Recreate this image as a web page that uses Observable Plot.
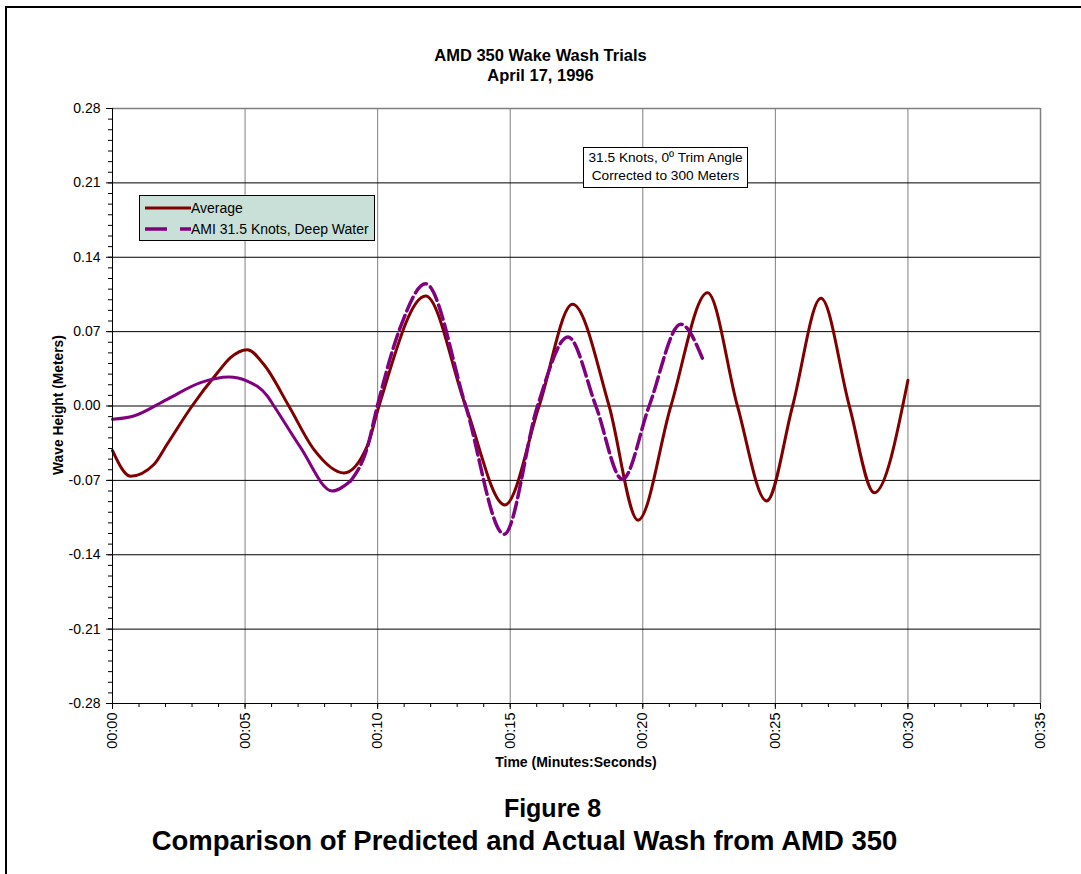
<!DOCTYPE html>
<html>
<head>
<meta charset="utf-8">
<script src="https://cdn.jsdelivr.net/npm/d3@7"></script>
<script src="https://cdn.jsdelivr.net/npm/@observablehq/plot@0.6"></script>
<style>
  html, body { margin: 0; padding: 0; background: #fff; overflow: hidden; }
  body { width: 1081px; height: 874px; position: relative; font-family: Arial, "Liberation Sans", sans-serif; }
  #frame { position: absolute; left: 5px; top: 6px; width: 1200px; height: 1000px; border-left: 2px solid #000; border-top: 2px solid #000; }
  #chart { position: absolute; left: 0; top: 0; }
  .abs { position: absolute; color: #000; }
  #title { left: 0; width: 1081px; top: 45px; text-align: center; font-weight: bold; font-size: 16.5px; line-height: 20px; }
  #ylabel { left: 58px; top: 405px; transform: translate(-50%, -50%) rotate(-90deg); font-weight: bold; font-size: 13.8px; white-space: nowrap; }
  #xlabel { left: 576px; top: 762px; transform: translate(-50%, -50%); font-weight: bold; font-size: 14px; white-space: nowrap; }
  .cap { text-align: center; font-weight: bold; white-space: nowrap; }
  #cap1 { top: 794px; left: 24px; width: 1057px; font-size: 25px; line-height: 29px; height: 29px; }
  #cap2 { top: 825px; left: -16px; width: 1081px; font-size: 27.5px; line-height: 32px; height: 32px; }
  #legend { left: 139px; top: 195px; width: 234px; height: 44px; background: #c8e0d8; border: 1px solid #000; font-size: 14px; }
  #legend .item { position: absolute; left: 4px; height: 18px; display: flex; align-items: center; white-space: nowrap; }
  #legend svg { display: block; }
  #note { left: 583px; top: 147px; width: 163px; height: 38px; background: #fff; border: 1px solid #000; font-size: 13.7px; line-height: 18px; text-align: center; padding-top: 1px; }
</style>
</head>
<body>
<div id="frame"></div>
<div id="chart"></div>
<div id="title" class="abs">AMD 350 Wake Wash Trials<br>April 17, 1996</div>
<div id="ylabel" class="abs">Wave Height (Meters)</div>
<div id="xlabel" class="abs">Time (Minutes:Seconds)</div>
<div id="note" class="abs">31.5 Knots, 0º Trim Angle<br>Corrected to 300 Meters</div>
<div id="legend" class="abs"></div>
<div id="cap1" class="abs cap">Figure 8</div>
<div id="cap2" class="abs cap">Comparison of Predicted and Actual Wash from AMD 350</div>
<script>
// ---- data (seconds, meters) ----
const seriesNames = ["Average", "AMI 31.5 Knots, Deep Water"];
const seriesColors = ["#800000", "#800080"];

const avgTime  = [0, 0.68, 1.56, 2.06, 3.0, 3.95, 4.45, 5.08, 5.71, 6.65, 7.6, 8.73, 9.61, 10.05, 11.81, 13.32, 14.8, 16.09, 17.35, 18.73, 19.82, 21.06, 22.44, 23.57, 24.67, 25.65, 26.72, 27.79, 28.73, 30.0];
const avgValue = [-0.042, -0.066, -0.055, -0.036, 0.0, 0.031, 0.0455, 0.053, 0.039, 0.0, -0.041, -0.063, -0.0376, 0.0, 0.1035, 0.0, -0.0931, 0.0, 0.0957, 0.0, -0.1075, 0.0, 0.1066, 0.0, -0.0894, 0.0, 0.1013, 0.0, -0.0816, 0.0242];

const amiTime  = [0, 0.8, 2.06, 3.32, 4.39, 5.08, 5.84, 6.09, 7.09, 8.29, 8.98, 9.61, 9.99, 10.87, 11.81, 13.32, 14.77, 16.03, 17.18, 18.23, 19.23, 20.24, 21.43, 22.28];
const amiValue = [-0.0125, -0.0094, 0.0063, 0.022, 0.0273, 0.0235, 0.0094, 0.0, -0.039, -0.080, -0.0706, -0.039, 0.0, 0.075, 0.115, 0.0, -0.1207, 0.0, 0.065, 0.0, -0.069, 0.0, 0.0769, 0.043];
const amiDenseUntil = 8.98; // the reference draws the densely sampled start as a solid stroke

const yMajor = [-0.28, -0.21, -0.14, -0.07, 0, 0.07, 0.14, 0.21, 0.28];
const yMinor = d3.range(-28, 29).map(i => i / 100);
const xMajor = [0, 5, 10, 15, 20, 25, 30, 35];
const xMinor = d3.range(0, 36);
const xTickLabels = ["00:00", "00:05", "00:10", "00:15", "00:20", "00:25", "00:30", "00:35"];

// ---- build rows ----
const avgRows = avgTime.map((t, i) => ({t, v: avgValue[i]}));
const amiRows = amiTime.map((t, i) => ({t, v: amiValue[i]}));

const chart = Plot.plot({
  width: 1081,
  height: 780,
  marginLeft: 112,
  marginRight: 41,
  marginTop: 108,
  marginBottom: 77,
  style: {fontFamily: "Arial, 'Liberation Sans', sans-serif", fontSize: "14px", background: "transparent", color: "#000"},
  x: {domain: [0, 35], label: null},
  y: {domain: [-0.28, 0.28], label: null},
  marks: [
    Plot.gridX(xMajor.filter(d => d > 0), {stroke: "#808080", strokeOpacity: 1, strokeWidth: 1}),
    Plot.gridY(yMajor.filter(d => d > -0.28 && d < 0.28), {stroke: "#000", strokeOpacity: 1, strokeWidth: 1}),
    Plot.ruleY([0.28], {stroke: "#808080", strokeWidth: 1.5}),
    Plot.ruleX([35], {stroke: "#808080", strokeWidth: 1.5}),
    Plot.line(avgRows, {x: "t", y: "v", stroke: seriesColors[0], strokeWidth: 3, curve: "monotone-x"}),
    Plot.line(amiRows.filter(d => d.t <= amiDenseUntil), {x: "t", y: "v", stroke: seriesColors[1], strokeWidth: 3, curve: "monotone-x"}),
    Plot.line(amiRows.filter(d => d.t >= amiDenseUntil), {x: "t", y: "v", stroke: seriesColors[1], strokeWidth: 3.5, strokeDasharray: "15,5", curve: "monotone-x"}),
    Plot.axisY(yMinor, {tickSize: 4, tickFormat: () => "", label: null, stroke: "#000"}),
    Plot.axisY(yMajor, {tickSize: 6, tickPadding: 6, tickFormat: d => d.toFixed(2), label: null, stroke: "#000", fontSize: 14}),
    Plot.axisX(xMinor, {tickSize: 4, tickFormat: () => "", label: null, stroke: "#000"}),
    Plot.axisX(xMajor, {tickSize: 6, tickPadding: 3, tickRotate: -90, tickFormat: d => xTickLabels[xMajor.indexOf(d)], label: null, stroke: "#000", fontSize: 14.5}),
    Plot.ruleX([0], {stroke: "#000", strokeWidth: 1}),
    Plot.ruleY([-0.28], {stroke: "#000", strokeWidth: 1})
  ]
});
document.getElementById("chart").appendChild(chart);

// ---- legend ----
const legend = document.getElementById("legend");
seriesNames.forEach((name, i) => {
  const item = document.createElement("div");
  item.className = "item";
  item.style.top = (i === 0 ? 3 : 24) + "px";
  const dash = i === 0 ? "" : ' stroke-dasharray="22,13"';
  item.innerHTML = `<svg width="47" height="10"><line x1="1" y1="5" x2="47" y2="5" stroke="${seriesColors[i]}" stroke-width="${i === 0 ? 3 : 3.5}"${dash}/></svg><span>${name}</span>`;
  legend.appendChild(item);
});
</script>
</body>
</html>
